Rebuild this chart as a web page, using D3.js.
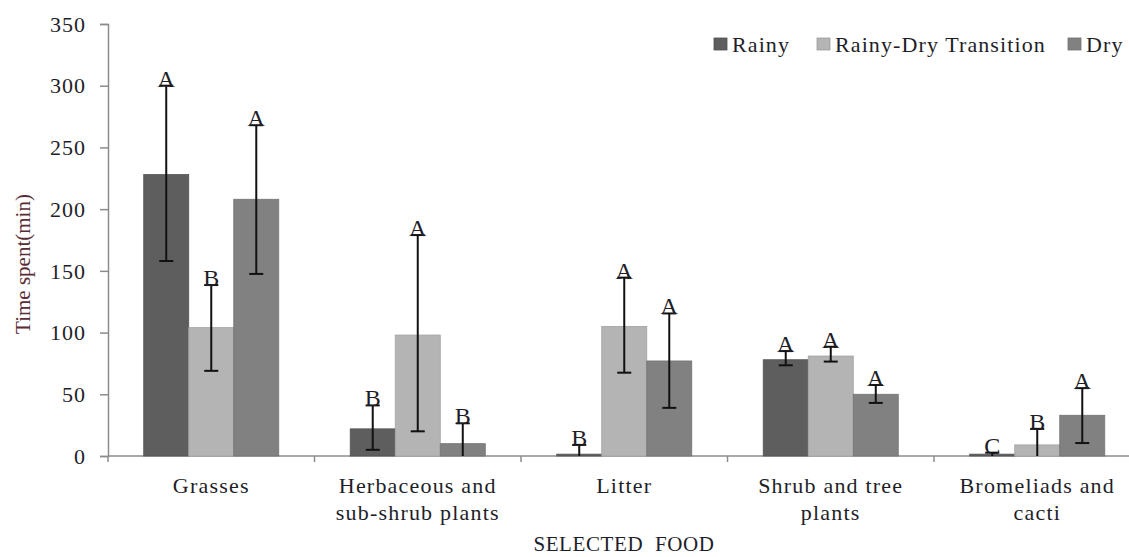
<!DOCTYPE html>
<html>
<head>
<meta charset="utf-8">
<script src="https://cdn.jsdelivr.net/npm/d3@7"></script>
<style>
  body { margin: 0; background: #fff; }
  svg { display: block; }
  text { font-family: "Liberation Serif", "Times New Roman", serif; fill: #1e1e28; }
</style>
</head>
<body>
<svg id="chart" width="1129" height="557"></svg>
<script>
// categories (label lines)
const categories = [
    ['Grasses'],
    ['Herbaceous and', 'sub-shrub plants'],
    ['Litter'],
    ['Shrub and tree', 'plants'],
    ['Bromeliads and', 'cacti'],
];
const seasons = ['Rainy', 'Rainy-Dry Transition', 'Dry'];

// mean time spent (min)
const rainy = [228, 22, 1.5, 78, 1.5];
const transition = [104, 98, 105, 81, 9];
const dry = [208, 10, 77, 50, 33];

// error bar ends
const rainyHigh = [300, 41, 9, 85, 2.7];
const rainyLow = [158, 5, 0, 73.5, 0];
const transitionHigh = [138.5, 179, 144.5, 88.5, 22];
const transitionLow = [69, 20, 67.5, 76.5, 0];
const dryHigh = [268, 26.5, 115.5, 57.5, 55];
const dryLow = [147.5, 0, 39, 43, 10.5];

// letters of significance
const rainyLetters = ['A', 'B', 'B', 'A', 'C'];
const transitionLetters = ['B', 'A', 'A', 'A', 'B'];
const dryLetters = ['A', 'B', 'A', 'A', 'A'];

const yTicks = [0, 50, 100, 150, 200, 250, 300, 350];

const colors = ['#5e5e5e', '#b4b4b4', '#818181'];

const series = [
    { values: rainy, high: rainyHigh, low: rainyLow, letters: rainyLetters },
    { values: transition, high: transitionHigh, low: transitionLow, letters: transitionLetters },
    { values: dry, high: dryHigh, low: dryLow, letters: dryLetters },
];

const svg = d3.select('#chart');
const plotLeft = 108, plotRight = 1140.5, plotTop = 24, plotBottom = 456;

const x = d3.scaleBand().domain(d3.range(categories.length)).range([plotLeft, plotRight]).padding(0);
const xInner = d3.scaleBand()
    .domain(d3.range(seasons.length))
    .range([x.bandwidth() * 0.173, x.bandwidth() * 0.827]);
const y = d3.scaleLinear().domain([0, 350]).range([plotBottom, plotTop]);

// y axis
const yAxis = svg.append('g').attr('transform', `translate(${plotLeft},0)`)
    .call(d3.axisLeft(y).tickValues(yTicks).tickSize(8).tickPadding(14));
yAxis.select('.domain').attr('stroke', '#8c8c8c').attr('stroke-width', 1.5);
yAxis.selectAll('.tick line').attr('stroke', '#8c8c8c').attr('stroke-width', 1.5);
yAxis.selectAll('.tick text')
    .attr('fill', '#141428')
    .style('font-family', '"Liberation Serif", serif')
    .style('font-size', '22px')
    .style('letter-spacing', '1px')
    .attr('dy', '0.33em');

// x axis line + boundary ticks
svg.append('line')
    .attr('x1', plotLeft).attr('x2', 1129)
    .attr('y1', plotBottom).attr('y2', plotBottom)
    .attr('stroke', '#8c8c8c').attr('stroke-width', 1.5);
svg.append('g').selectAll('line')
    .data(d3.range(categories.length + 1))
    .join('line')
    .attr('x1', d => plotLeft + d * x.bandwidth())
    .attr('x2', d => plotLeft + d * x.bandwidth())
    .attr('y1', plotBottom).attr('y2', plotBottom + 6)
    .attr('stroke', '#8c8c8c').attr('stroke-width', 1.5);

// bars
const groups = svg.append('g').selectAll('g')
    .data(series)
    .join('g');

groups.each(function (s, si) {
    const g = d3.select(this);
    const idx = d3.range(s.values.length);
    const cx = i => x(i) + xInner(si) + xInner.bandwidth() / 2;

    g.selectAll('rect')
        .data(s.values)
        .join('rect')
        .attr('x', (d, i) => x(i) + xInner(si))
        .attr('width', xInner.bandwidth())
        .attr('y', d => y(d))
        .attr('height', d => y(0) - y(d))
        .attr('fill', colors[si])
        .attr('stroke', d3.color(colors[si]).darker(0.3))
        .attr('stroke-width', 0.8);

    // error bars
    g.selectAll('.err')
        .data(idx)
        .join('line')
        .attr('class', 'err')
        .attr('x1', cx).attr('x2', cx)
        .attr('y1', i => y(s.high[i]))
        .attr('y2', i => y(s.low[i]))
        .attr('stroke', '#111').attr('stroke-width', 2);

    g.selectAll('.capHigh')
        .data(idx)
        .join('line')
        .attr('class', 'capHigh')
        .attr('x1', i => cx(i) - 7).attr('x2', i => cx(i) + 7)
        .attr('y1', i => y(s.high[i])).attr('y2', i => y(s.high[i]))
        .attr('stroke', '#111').attr('stroke-width', 2);

    g.selectAll('.capLow')
        .data(idx.filter(i => s.low[i] > 0))
        .join('line')
        .attr('class', 'capLow')
        .attr('x1', i => cx(i) - 7).attr('x2', i => cx(i) + 7)
        .attr('y1', i => y(s.low[i])).attr('y2', i => y(s.low[i]))
        .attr('stroke', '#111').attr('stroke-width', 2);

    // letters
    g.selectAll('.letter')
        .data(idx)
        .join('text')
        .attr('class', 'letter')
        .attr('x', cx)
        .attr('y', i => y(s.high[i]) + 1)
        .attr('text-anchor', 'middle')
        .style('font-size', '24px')
        .text(i => s.letters[i]);
});

// category labels
svg.append('g').selectAll('text')
    .data(categories)
    .join('text')
    .attr('text-anchor', 'middle')
    .attr('x', (d, i) => x(i) + x.bandwidth() / 2)
    .attr('y', 493)
    .style('font-size', '22px')
    .style('letter-spacing', '1.2px')
    .each(function (lines) {
        const t = d3.select(this);
        t.selectAll('tspan')
            .data(lines)
            .join('tspan')
            .attr('x', t.attr('x'))
            .attr('dy', (d, i) => (i === 0 ? 0 : 27))
            .text(d => d);
    });

// axis titles
svg.append('text')
    .attr('x', 624).attr('y', 551)
    .attr('text-anchor', 'middle')
    .style('font-size', '21px')
    .style('letter-spacing', '0.6px')
    .style('word-spacing', '6px')
    .text('SELECTED FOOD');

svg.append('text')
    .attr('transform', 'translate(30,264) rotate(-90)')
    .attr('text-anchor', 'middle')
    .style('font-size', '21px')
    .style('fill', '#5a2c34')
    .text('Time spent(min)');

// legend
const legendX = [714, 817, 1068];
const legend = svg.append('g').selectAll('g')
    .data(seasons)
    .join('g')
    .attr('transform', (d, i) => `translate(${legendX[i]},38)`);
legend.append('rect')
    .attr('width', 13).attr('height', 12)
    .attr('fill', (d, i) => colors[i])
    .attr('stroke', (d, i) => d3.color(colors[i]).darker(0.4))
    .attr('stroke-width', 0.8);
legend.append('text')
    .attr('x', 18).attr('y', 14)
    .style('font-size', '22px')
    .style('letter-spacing', '1.1px')
    .text(d => d);
</script>
</body>
</html>
